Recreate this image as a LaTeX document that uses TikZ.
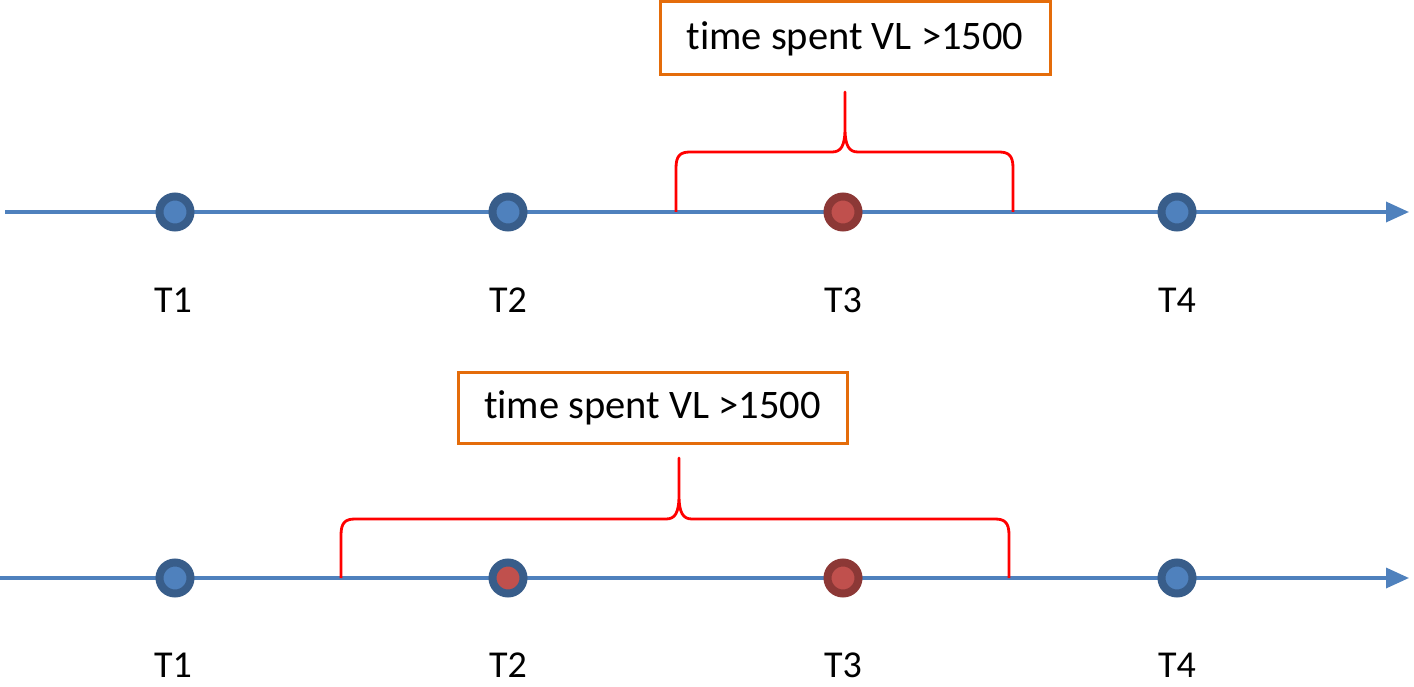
\documentclass[tikz,border=0pt]{standalone}
\usepackage{fontspec}
\setmainfont{Carlito}[Ligatures={NoCommon}]
\usetikzlibrary{arrows.meta}
\definecolor{axisblue}{HTML}{4F81BD}
\definecolor{dotblueout}{HTML}{385D8A}
\definecolor{dotbluein}{HTML}{4F81BD}
\definecolor{dotredout}{HTML}{8C3836}
\definecolor{dotredin}{HTML}{C0504D}
\definecolor{boxorange}{HTML}{E46C0A}
\definecolor{bracered}{HTML}{FF0000}
\tikzset{
  axis/.style={draw=axisblue, line width=3.5pt, -{Triangle[length=23pt,width=20pt]}},
  bluedot/.style={circle, minimum size=31pt, inner sep=0pt, fill=dotbluein, draw=dotblueout, line width=8pt},
  reddot/.style={circle, minimum size=31pt, inner sep=0pt, fill=dotredin, draw=dotredout, line width=8pt},
  mixdot/.style={circle, minimum size=31pt, inner sep=0pt, fill=dotredin, draw=dotblueout, line width=8pt},
  tlabel/.style={font=\fontsize{38}{46}\selectfont, inner sep=0pt},
  notebox/.style={draw=boxorange, line width=3pt, fill=white, inner sep=0pt, font=\fontsize{40.5}{48}\selectfont},
  bracepath/.style={draw=bracered, line width=2.8pt, line join=round}
}
\begin{document}
\begin{tikzpicture}[x=1pt,y=-1pt]
\useasboundingbox (0,0) rectangle (1414,687);
% ---- top row ----
\coordinate (a1s) at (5,212);
\coordinate (a1e) at (1409,212);
\draw[axis] (a1s) -- (a1e);
\node[bluedot] (d11) at (175,212) {};
\node[bluedot] (d12) at (508,212) {};
\node[reddot]  (d13) at (843,212) {};
\node[bluedot] (d14) at (1177,212) {};
\node[tlabel] (l11) at (173,300) {T1};
\node[tlabel] (l12) at (508,300) {T2};
\node[tlabel] (l13) at (843,300) {T3};
\node[tlabel] (l14) at (1177,300) {T4};
\node[notebox, minimum width=390pt, minimum height=73pt] (b1) at (855,38.5) {time spent VL >1500};
\coordinate (br1l) at (676,212);
\coordinate (br1r) at (1013,212);
\coordinate (br1t) at (845,92);
\draw[bracepath] (br1l) -- (676,168) .. controls (676,156) and (680,152) .. (690,152)
  -- (832,152) .. controls (841,152) and (845,146) .. (845,128) -- (br1t)
  -- (845,128) .. controls (845,146) and (849,152) .. (858,152)
  -- (999,152) .. controls (1009,152) and (1013,156) .. (1013,168) -- (br1r);
% ---- bottom row ----
\coordinate (a2s) at (0,578);
\coordinate (a2e) at (1409,578);
\draw[axis] (a2s) -- (a2e);
\node[bluedot] (d21) at (175,578) {};
\node[mixdot]  (d22) at (508,578) {};
\node[reddot]  (d23) at (843,578) {};
\node[bluedot] (d24) at (1177,578) {};
\node[tlabel] (l21) at (173,665) {T1};
\node[tlabel] (l22) at (508,665) {T2};
\node[tlabel] (l23) at (843,665) {T3};
\node[tlabel] (l24) at (1177,665) {T4};
\node[notebox, minimum width=389pt, minimum height=71pt] (b2) at (652.5,407.5) {time spent VL >1500};
\coordinate (br2l) at (341,578);
\coordinate (br2r) at (1009,578);
\coordinate (br2t) at (679,458);
\draw[bracepath] (br2l) -- (341,535) .. controls (341,523) and (345,519) .. (355,519)
  -- (666,519) .. controls (675,519) and (679,513) .. (679,495) -- (br2t)
  -- (679,495) .. controls (679,513) and (683,519) .. (692,519)
  -- (995,519) .. controls (1005,519) and (1009,523) .. (1009,535) -- (br2r);
\end{tikzpicture}
\end{document}
